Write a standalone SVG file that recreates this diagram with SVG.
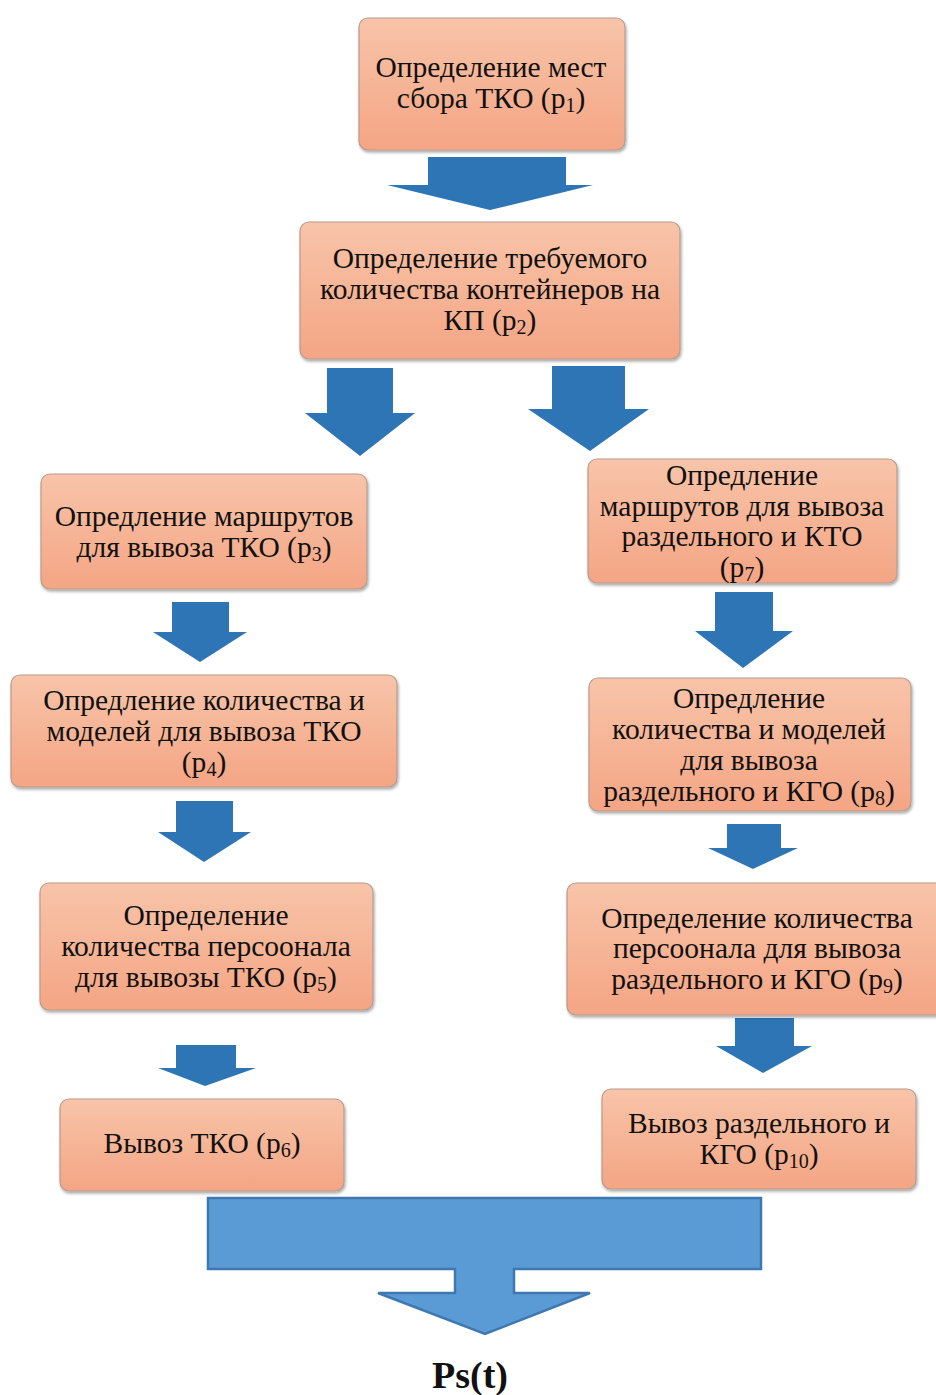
<svg xmlns="http://www.w3.org/2000/svg" width="936" height="1395" viewBox="0 0 936 1395">
  <defs>
    <linearGradient id="boxFill" x1="0" y1="0" x2="0" y2="1">
      <stop offset="0" stop-color="#F8C4A9"/>
      <stop offset="1" stop-color="#F4A584"/>
    </linearGradient>
    <filter id="shadow" x="-5%" y="-5%" width="110%" height="115%">
      <feGaussianBlur in="SourceAlpha" stdDeviation="1.5"/>
      <feOffset dx="1" dy="2" result="b"/>
      <feComponentTransfer><feFuncA type="linear" slope="0.35"/></feComponentTransfer>
      <feMerge><feMergeNode/><feMergeNode in="SourceGraphic"/></feMerge>
    </filter>
  </defs>
  <style>
    .box { fill: url(#boxFill); stroke: #B79C8E; stroke-width: 1.2; filter: url(#shadow); }
    .lbl { font-family: "Liberation Serif", "Times New Roman", serif; font-size: 29.5px; fill: #111; text-anchor: middle; }
    .sub { font-size: 20px; }
    .arr { fill: #2E75B6; }
    .big { fill: #5B9BD5; stroke: #3F78B0; stroke-width: 2.5; }
    .res { font-family: "Liberation Serif", "Times New Roman", serif; font-size: 38px; font-weight: bold; fill: #111; text-anchor: middle; }
  </style>

  <!-- connectors: block arrows -->
  <g id="connectors">
    <polygon class="arr" points="428,157 566,157 566,185 593,185 490,210 387,185 428,185"/>
    <polygon class="arr" points="327,368 393,368 393,413 415,413 360,456 305,413 327,413"/>
    <polygon class="arr" points="552,366 625,366 625,409 649,409 590,451 528,409 552,409"/>
    <polygon class="arr" points="172,602 229,602 229,632 247,632 200,662 153,632 172,632"/>
    <polygon class="arr" points="176,801 233,801 233,832 251,832 204,862 158,832 176,832"/>
    <polygon class="arr" points="176,1045 236,1045 236,1068 256,1068 205,1086 158,1068 176,1068"/>
    <polygon class="arr" points="715,592 773,592 773,631 793,631 743,668 695,631 715,631"/>
    <polygon class="arr" points="727,824 781,824 781,848 798,848 753,869 708,848 727,848"/>
    <polygon class="arr" points="735,1018 794,1018 794,1046 812,1046 763,1073 716,1046 735,1046"/>
    <path class="big" d="M208,1198 H761 V1269 H514 V1293 H590 L485,1334 L378,1293 H455 V1269 H208 Z"/>
  </g>

  <g id="p1">
    <rect class="box" x="359" y="18" width="266" height="132" rx="9"/>
    <text class="lbl" x="491" y="77">Определение мест</text>
    <text class="lbl" x="491" y="108">сбора ТКО (p<tspan class="sub" dy="4">1</tspan><tspan dy="-4">)</tspan></text>
  </g>

  <g id="p2">
    <rect class="box" x="300" y="222" width="380" height="137" rx="9"/>
    <text class="lbl" x="490" y="268">Определение требуемого</text>
    <text class="lbl" x="490" y="299">количества контейнеров на</text>
    <text class="lbl" x="490" y="330">КП (p<tspan class="sub" dy="4">2</tspan><tspan dy="-4">)</tspan></text>
  </g>

  <g id="p3">
    <rect class="box" x="41" y="474" width="326" height="115" rx="9"/>
    <text class="lbl" x="204" y="526">Опредление маршрутов</text>
    <text class="lbl" x="204" y="557">для вывоза ТКО (p<tspan class="sub" dy="4">3</tspan><tspan dy="-4">)</tspan></text>
  </g>

  <g id="p4">
    <rect class="box" x="11" y="675" width="386" height="112" rx="9"/>
    <text class="lbl" x="204" y="710">Опредление количества и</text>
    <text class="lbl" x="204" y="741">моделей для вывоза ТКО</text>
    <text class="lbl" x="204" y="772">(p<tspan class="sub" dy="4">4</tspan><tspan dy="-4">)</tspan></text>
  </g>

  <g id="p5">
    <rect class="box" x="40" y="883" width="333" height="127" rx="9"/>
    <text class="lbl" x="206" y="925">Определение</text>
    <text class="lbl" x="206" y="956">количества персоонала</text>
    <text class="lbl" x="206" y="987">для вывозы ТКО (p<tspan class="sub" dy="4">5</tspan><tspan dy="-4">)</tspan></text>
  </g>

  <g id="p6">
    <rect class="box" x="60" y="1099" width="284" height="92" rx="9"/>
    <text class="lbl" x="202" y="1153">Вывоз ТКО (p<tspan class="sub" dy="4">6</tspan><tspan dy="-4">)</tspan></text>
  </g>

  <g id="p7">
    <rect class="box" x="588" y="459" width="309" height="124" rx="9"/>
    <text class="lbl" x="742" y="485">Опредление</text>
    <text class="lbl" x="742" y="516">маршрутов для вывоза</text>
    <text class="lbl" x="742" y="546">раздельного и КТО</text>
    <text class="lbl" x="742" y="577">(p<tspan class="sub" dy="4">7</tspan><tspan dy="-4">)</tspan></text>
  </g>

  <g id="p8">
    <rect class="box" x="589" y="678" width="322" height="133" rx="9"/>
    <text class="lbl" x="749" y="708">Опредление</text>
    <text class="lbl" x="749" y="739">количества и моделей</text>
    <text class="lbl" x="749" y="770">для вывоза</text>
    <text class="lbl" x="749" y="801">раздельного и КГО (p<tspan class="sub" dy="4">8</tspan><tspan dy="-4">)</tspan></text>
  </g>

  <g id="p9">
    <rect class="box" x="567" y="883" width="380" height="132" rx="9"/>
    <text class="lbl" x="757" y="928">Определение количества</text>
    <text class="lbl" x="757" y="958">персоонала для вывоза</text>
    <text class="lbl" x="757" y="989">раздельного и КГО (p<tspan class="sub" dy="4">9</tspan><tspan dy="-4">)</tspan></text>
  </g>

  <g id="p10">
    <rect class="box" x="602" y="1089" width="314" height="100" rx="9"/>
    <text class="lbl" x="759" y="1133">Вывоз раздельного и</text>
    <text class="lbl" x="759" y="1164">КГО (p<tspan class="sub" dy="4">10</tspan><tspan dy="-4">)</tspan></text>
  </g>

  <g id="result">
    <text class="res" x="470" y="1388">Ps(t)</text>
  </g>
</svg>
